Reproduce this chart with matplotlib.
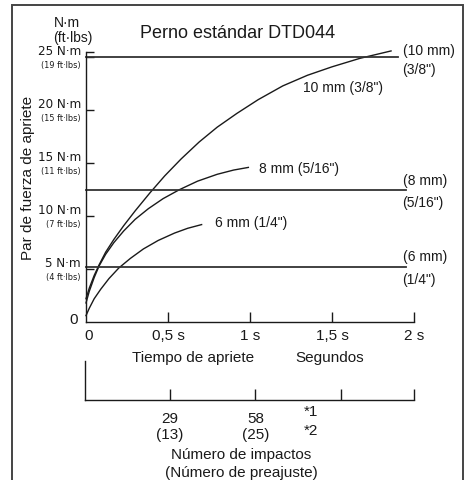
import matplotlib.pyplot as plt
from matplotlib import font_manager
from matplotlib.font_manager import FontProperties
from matplotlib.patches import Rectangle

W, H = 470, 481

# tightening time (s) vs fastening torque (N·m) for each bolt size
t_10mm = [0, 0.02, 0.05, 0.08, 0.12, 0.17, 0.23, 0.3, 0.39, 0.48, 0.58, 0.69,
          0.8, 0.92, 1.05, 1.2, 1.35, 1.5, 1.67, 1.86]
torque_10mm = [2.2, 3.2, 4.4, 5.4, 6.6, 7.8, 9.1, 10.5, 12.2, 13.8, 15.4, 17.0,
               18.4, 19.7, 21.0, 22.3, 23.3, 24.1, 24.9, 25.6]
t_8mm = [0, 0.02, 0.05, 0.08, 0.12, 0.17, 0.23, 0.3, 0.38, 0.47, 0.57, 0.68, 0.8, 0.9, 0.99]
torque_8mm = [1.8, 2.9, 4.2, 5.3, 6.4, 7.5, 8.6, 9.7, 10.7, 11.65, 12.5, 13.3, 13.95, 14.35, 14.6]
t_6mm = [0, 0.02, 0.05, 0.09, 0.14, 0.2, 0.27, 0.35, 0.44, 0.54, 0.62, 0.705]
torque_6mm = [0.6, 1.3, 2.2, 3.1, 4.1, 5.1, 6.0, 6.9, 7.7, 8.4, 8.85, 9.2]
curve_names = ['10 mm (3/8")', '8 mm (5/16")', '6 mm (1/4")']

# recommended torque per bolt size
ref_levels = [25.0, 12.5, 5.2]
ref_ends = [1.90, 1.95, 1.95]
ref_labels = [("(10 mm)", '(3/8")'), ("(8 mm)", '(5/16")'), ("(6 mm)", '(1/4")')]

torque_ticks = [5, 10, 15, 20, 25]
nm_labels = ["5 N·m", "10 N·m", "15 N·m", "20 N·m", "25 N·m"]
ftlbs_labels = ["(4 ft·lbs)", "(7 ft·lbs)", "(11 ft·lbs)", "(15 ft·lbs)", "(19 ft·lbs)"]
time_ticks = [0, 0.5, 1, 1.5, 2]
time_labels = ["0", "0,5 s", "1 s", "1,5 s", "2 s"]
impact_ticks = [29, 58, 87, 112]
impact_labels = ["29\n(13)", "58\n(25)", "", ""]

plt.rcParams["font.family"] = ["Liberation Sans", "DejaVu Sans"]
INK = "#1a1a1a"

# a condensed face for the small torque labels, if one is installed
narrow = None
for f in font_manager.fontManager.ttflist:
    fn = f.fname.lower()
    if ("narrow" in fn or "condensed" in fn) and "bold" not in fn and "oblique" not in fn \
            and "italic" not in fn:
        narrow = FontProperties(fname=f.fname)
        break
if narrow is None:
    nm_size, ft_size = 8, 5.5
    narrow = FontProperties(family="Liberation Sans")
else:
    nm_size, ft_size = 9.5, 6.5


def px(x, y):
    return x / W, 1 - y / H


fig = plt.figure(figsize=(W / 100, H / 100), dpi=100)

# outer frame, open at the bottom
fig.patches.append(Rectangle(px(12, 500), 451 / W, 494 / H, transform=fig.transFigure,
                             fill=False, edgecolor="#444444", lw=1.4))

# main torque/time chart
x0, x1, y0, ytop = 86, 414, 323, 53
ax = fig.add_axes([x0 / W, 1 - y0 / H, (x1 - x0) / W, (y0 - ytop) / H])
ax.set_xlim(0, 2)
ax.set_ylim(0, 25.5)
for s in ("top", "right"):
    ax.spines[s].set_visible(False)
for s in ("left", "bottom"):
    ax.spines[s].set_color(INK)
    ax.spines[s].set_linewidth(1.0)

for t, q in ((t_10mm, torque_10mm), (t_8mm, torque_8mm), (t_6mm, torque_6mm)):
    ax.plot(t, q, color=INK, lw=1.0, clip_on=False, solid_joinstyle="round")

label_rise = [7, 10, 11]
for lvl, end, (top, bottom), rise in zip(ref_levels, ref_ends, ref_labels, label_rise):
    ax.plot([0, end], [lvl, lvl], color="#333333", lw=1.3, clip_on=False)
    ax.annotate(top, (1.93, lvl), xytext=(0, rise), textcoords="offset pixels",
                ha="left", va="center", fontsize=10, color=INK, annotation_clip=False)
    ax.annotate(bottom, (1.93, lvl), xytext=(0, -12), textcoords="offset pixels",
                ha="left", va="center", fontsize=10, color=INK, annotation_clip=False)

# labels at the end of each curve
ax.annotate(curve_names[0], (t_10mm[-1], torque_10mm[-1]), xytext=(-88, -36),
            textcoords="offset pixels", ha="left", va="center", fontsize=10,
            color=INK, annotation_clip=False)
ax.annotate(curve_names[1], (t_8mm[-1], torque_8mm[-1]), xytext=(11, -1),
            textcoords="offset pixels", ha="left", va="center", fontsize=10, color=INK)
ax.annotate(curve_names[2], (t_6mm[-1], torque_6mm[-1]), xytext=(13, 3),
            textcoords="offset pixels", ha="left", va="center", fontsize=10, color=INK)

ax.set_yticks(torque_ticks)
ax.set_yticks([25.5], minor=True)
ax.tick_params(axis="y", which="both", direction="in", length=6, width=1.0,
               color=INK, labelleft=False)
for v, nm, ft in zip(torque_ticks, nm_labels, ftlbs_labels):
    ax.annotate(nm, (0, v), xycoords=("axes fraction", "data"), xytext=(-5, 7),
                textcoords="offset pixels", ha="right", va="center",
                fontproperties=narrow, fontsize=nm_size, color=INK)
    ax.annotate(ft, (0, v), xycoords=("axes fraction", "data"), xytext=(-5, -7),
                textcoords="offset pixels", ha="right", va="center",
                fontproperties=narrow, fontsize=ft_size, color=INK)
ax.annotate("0", (0, 0), xycoords=("axes fraction", "data"), xytext=(-8, 3),
            textcoords="offset pixels", ha="right", va="center", fontsize=11, color=INK)

ax.set_xticks(time_ticks[1:])
ax.set_xticklabels(time_labels[1:], fontsize=11, color=INK)
ax.tick_params(axis="x", direction="in", length=7.5, width=1.0, color=INK, pad=4)
ax.annotate(time_labels[0], (0, 0), xytext=(3, -13), textcoords="offset pixels",
            ha="center", va="center", fontsize=11, color=INK, annotation_clip=False)

# impact count scale
ax2 = fig.add_axes([85 / W, 1 - 401 / H, (414 - 85) / W, (401 - 362) / H])
ax2.set_xlim(0, 112)
ax2.set_ylim(0, 1)
for s in ("top", "right"):
    ax2.spines[s].set_visible(False)
for s in ("left", "bottom"):
    ax2.spines[s].set_color(INK)
    ax2.spines[s].set_linewidth(1.0)
ax2.set_yticks([])
ax2.set_xticks(impact_ticks)
ax2.set_xticklabels(impact_labels, fontsize=11, color=INK, linespacing=1.2)
ax2.tick_params(axis="x", direction="in", length=8, width=1.0, color=INK, pad=8)
ax2.text(77, -0.28, "*1", ha="center", va="center", fontsize=11, color=INK)
ax2.text(77, -0.78, "*2", ha="center", va="center", fontsize=11, color=INK)

fig.text(*px(238, 34), "Perno estándar DTD044", ha="center", va="center", fontsize=13, color=INK)
fig.text(*px(54, 23), "N·m", ha="left", va="center", fontsize=10, color=INK)
fig.text(*px(53, 38), "(ft·lbs)", ha="left", va="center", fontsize=10, color=INK)
fig.text(*px(28, 178), "Par de fuerza de apriete", ha="center", va="center",
         rotation=90, fontsize=11, color=INK)
fig.text(*px(193, 358), "Tiempo de apriete", ha="center", va="center", fontsize=11, color=INK)
fig.text(*px(330, 358), "Segundos", ha="center", va="center", fontsize=11, color=INK)
fig.text(*px(241, 455), "Número de impactos", ha="center", va="center", fontsize=11, color=INK)
fig.text(*px(241, 473), "(Número de preajuste)", ha="center", va="center", fontsize=11, color=INK)

fig.savefig("out.png", dpi=100)
